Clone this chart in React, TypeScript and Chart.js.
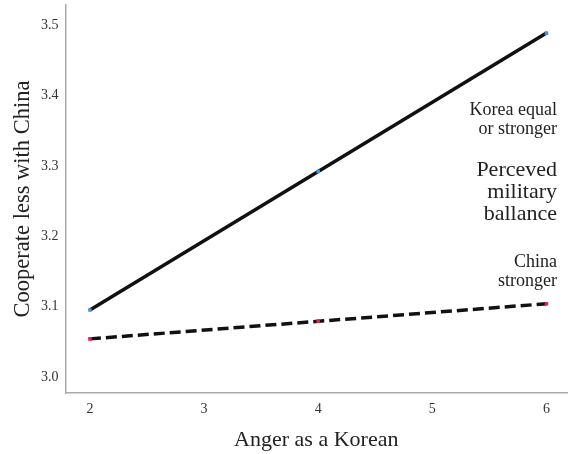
import React, { useEffect, useRef } from "react";
import { Chart, registerables } from "chart.js";

Chart.register(...registerables);

const angerLevels = [2, 4, 6];
const koreaEqualOrStronger = [3.095, 3.292, 3.489];
const chinaStronger = [3.054, 3.079, 3.104];
const xTickValues = [2, 3, 4, 5, 6];
const yTickValues = [3.0, 3.1, 3.2, 3.3, 3.4, 3.5];

const annotations = [
  { lines: ["Korea equal", "or stronger"], size: 18, y: 110, gap: 19 },
  { lines: ["Perceved", "military", "ballance"], size: 22, y: 170, gap: 22 },
  { lines: ["China", "stronger"], size: 18, y: 262, gap: 19 },
];

const SERIF = "'Liberation Serif', 'Times New Roman', serif";

const textPlugin = {
  id: "sideText",
  afterDatasetsDraw(chart: any) {
    const ctx = chart.ctx;
    ctx.save();
    ctx.fillStyle = "#222";
    ctx.textAlign = "right";
    ctx.textBaseline = "middle";
    annotations.forEach((a) => {
      ctx.font = `${a.size}px ${SERIF}`;
      a.lines.forEach((l, i) => ctx.fillText(l, 557, a.y + i * a.gap));
    });
    ctx.restore();
  },
};

export default function App() {
  const ref = useRef<HTMLCanvasElement>(null);
  useEffect(() => {
    document.body.style.margin = "0";
    const chart = new Chart(ref.current!, {
      type: "line",
      data: {
        datasets: [
          {
            label: "Korea equal or stronger",
            data: angerLevels.map((x, i) => ({ x, y: koreaEqualOrStronger[i] })),
            borderColor: "#111",
            borderWidth: 3.5,
            pointBackgroundColor: "#4a8fe0",
            pointBorderWidth: 0,
            pointStyle: "rect",
            pointRadius: 2.5,
            tension: 0,
          },
          {
            label: "China stronger",
            data: angerLevels.map((x, i) => ({ x, y: chinaStronger[i] })),
            borderColor: "#111",
            borderWidth: 3.5,
            borderDash: [11, 5],
            pointBackgroundColor: "#e8204a",
            pointBorderWidth: 0,
            pointStyle: "rect",
            pointRadius: 2.5,
            tension: 0,
          },
        ],
      },
      options: {
        animation: false,
        responsive: false,
        layout: { padding: { top: 5, right: 3, left: 0, bottom: 0 } },
        plugins: { legend: { display: false }, tooltip: { enabled: false } },
        scales: {
          x: {
            type: "linear",
            min: 1.786,
            max: 6.18,
            afterBuildTicks: (s: any) => {
              s.ticks = xTickValues.map((v) => ({ value: v }));
            },
            afterFit: (s: any) => {
              s.height = 61;
              s.paddingLeft = 0;
              s.paddingRight = 0;
            },
            grid: { display: false, drawTicks: false },
            border: { color: "#aaa", width: 1.5 },
            ticks: {
              color: "#333",
              font: { family: SERIF, size: 14 },
              padding: 8,
              callback: (v: any) => String(v),
            },
            title: {
              display: true,
              text: "Anger as a Korean",
              color: "#222",
              font: { family: SERIF, size: 22 },
              padding: { top: 8, bottom: 1 },
            },
          },
          y: {
            type: "linear",
            min: 2.977,
            max: 3.529,
            afterBuildTicks: (s: any) => {
              s.ticks = yTickValues.map((v) => ({ value: v }));
            },
            afterFit: (s: any) => {
              s.width = 65.5;
              s.paddingTop = 0;
              s.paddingBottom = 0;
            },
            grid: { display: false, drawTicks: false },
            border: { color: "#aaa", width: 1.5 },
            ticks: {
              color: "#333",
              font: { family: SERIF, size: 14 },
              padding: 7,
              callback: (v: any) => Number(v).toFixed(1),
            },
            title: {
              display: true,
              text: "Cooperate less with China",
              color: "#222",
              font: { family: SERIF, size: 22.5 },
              padding: { top: 10, bottom: 0 },
            },
          },
        },
      },
      plugins: [textPlugin],
    });
    return () => chart.destroy();
  }, []);
  return (
    <div style={{ width: 571, height: 454 }}>
      <canvas ref={ref} width={571} height={454} />
    </div>
  );
}
